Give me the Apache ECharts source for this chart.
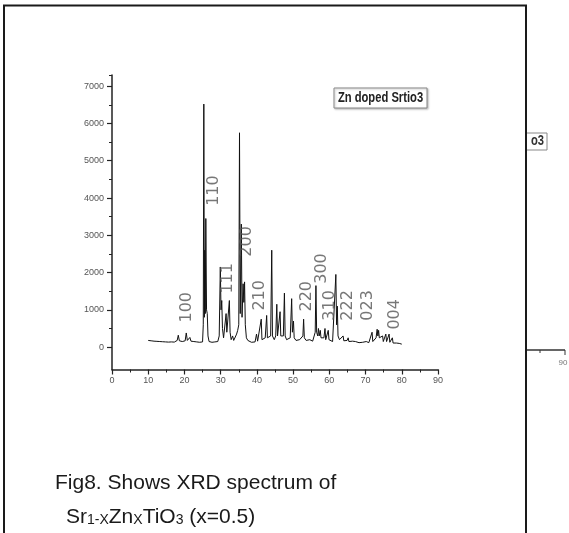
<!DOCTYPE html>
<html>
<head>
<meta charset="utf-8">
<script src="https://cdn.jsdelivr.net/npm/echarts@6/dist/echarts.min.js"></script>
<style>
html,body{margin:0;padding:0;background:#fff;}
#c{width:569px;height:533px;}
</style>
</head>
<body>
<div id="c"></div>
<script>
// 2-theta (degrees) and intensity (counts)
const twoTheta = [10.0,10.4,10.8,11.2,11.6,12.0,12.4,12.8,13.2,13.6,14.0,14.4,14.8,15.2,15.6,16.0,16.4,16.8,17.2,17.6,18.0,18.3,18.6,19.0,19.4,19.8,20.2,20.5,20.8,21.2,21.5,21.8,22.2,22.6,23.0,23.4,23.8,24.2,24.6,25.0,25.2,25.35,25.5,25.6,25.75,25.9,26.1,26.3,26.5,26.8,27.2,27.6,28.0,28.4,28.8,29.2,29.6,29.9,30.1,30.3,30.5,30.8,31.2,31.5,31.7,32.0,32.4,32.6,32.9,33.3,33.6,34.0,34.4,34.7,35.0,35.2,35.4,35.7,35.9,36.2,36.4,36.6,36.8,37.1,37.5,38.0,38.5,39.0,39.5,39.9,40.2,40.7,41.2,41.4,41.9,42.3,42.7,42.9,43.4,43.8,44.1,44.3,44.8,45.2,45.5,45.7,46.1,46.4,46.6,47.0,47.3,47.6,47.8,48.2,48.7,49.2,49.6,49.8,50.1,50.3,50.8,51.3,51.8,52.3,52.7,52.9,53.1,53.6,54.1,54.6,55.1,55.4,55.8,56.1,56.3,56.5,56.8,57.0,57.2,57.5,57.7,58.1,58.5,58.8,59.0,59.4,59.7,59.9,60.4,60.9,61.4,61.8,62.0,62.2,62.4,62.8,63.3,63.8,64.0,64.5,64.9,65.2,65.4,65.9,66.4,66.9,67.2,67.5,67.7,68.2,68.7,69.2,69.7,70.2,70.4,70.9,71.4,71.8,72.0,72.5,72.9,73.2,73.4,73.6,73.8,74.2,74.7,74.9,75.3,75.6,75.8,76.2,76.5,76.7,77.1,77.4,77.6,78.0,78.5,79.0,79.3,79.7,80.0];
const intensity = [180,160,170,150,160,140,155,135,150,130,145,125,140,120,135,125,140,120,135,150,180,320,170,130,150,140,170,380,180,150,260,160,130,150,120,140,110,130,110,140,600,6520,800,2600,900,3450,1000,900,300,150,120,130,110,140,120,150,300,2150,1000,1250,500,250,300,900,400,350,1250,400,200,300,180,220,350,450,600,5750,900,3300,800,1700,1200,1750,600,250,180,150,130,160,140,350,160,150,750,200,180,250,850,250,200,300,2600,300,200,300,1150,300,250,950,300,250,300,1450,300,200,180,250,1300,400,700,250,180,150,200,170,300,750,250,180,150,200,250,160,200,400,1650,400,300,500,300,450,250,200,250,500,200,200,450,200,180,150,200,1950,600,1100,300,200,170,300,170,150,180,250,150,140,160,130,150,200,130,120,110,130,110,150,110,120,150,400,150,200,250,480,300,450,250,200,300,150,150,350,150,130,350,130,120,250,110,100,110,90,100,90,80];

// Miller-index annotations (label text and their anchor in data units)
const hklText = ['100','110','111','200','210','220','300','310','222','023','004'];
const hklX    = [20.7, 28.2, 32.0, 37.3, 40.9, 53.8, 58.0, 60.2, 65.2, 70.7, 78.1];
const hklY    = [1070, 4200, 1845, 2835, 1390, 1365, 2110, 1120, 1120, 1120, 880];

// axis ticks
const yLabelValues = [0,1000,2000,3000,4000,5000,6000,7000];
const yMinorValues = [500,1500,2500,3500,4500,5500,6500,7300];

const boxText = 'Zn doped Srtio3';
const captionLine1 = 'Fig8. Shows XRD spectrum of';
const captionLine2 = 'Sr{s|1-X}Zn{s|X}TiO{s|3} (x=0.5)';

const chart = echarts.init(document.getElementById('c'), null, {renderer:'canvas'});

const yMin = -600, yMax = 7300;
const axisCol = '#222', labCol = '#555';

chart.setOption({
  animation:false,
  backgroundColor:'#fff',
  grid:{left:112, right:131, top:75, bottom:163.5, containLabel:false},
  xAxis:{
    type:'value', min:0, max:90, interval:10,
    axisLine:{show:true, onZero:false, lineStyle:{color:axisCol, width:1.5}},
    axisTick:{show:true, length:5, lineStyle:{color:axisCol, width:1.2}},
    minorTick:{show:true, splitNumber:2, length:3, lineStyle:{color:axisCol, width:1}},
    axisLabel:{color:labCol, fontSize:9, fontFamily:'Liberation Sans', margin:7, formatter:v=>String(v)},
    splitLine:{show:false}
  },
  yAxis:[{
    type:'value', min:yMin, max:yMax,
    axisLine:{show:true, onZero:false, lineStyle:{color:axisCol, width:1.5}},
    axisTick:{show:true, length:5, customValues:yLabelValues, lineStyle:{color:axisCol, width:1.2}},
    axisLabel:{color:labCol, fontSize:9, fontFamily:'Liberation Sans', margin:8, customValues:yLabelValues, formatter:v=>String(v)},
    splitLine:{show:false}
  },{
    type:'value', min:yMin, max:yMax, position:'left',
    axisLine:{show:false},
    axisTick:{show:true, length:3, customValues:yMinorValues, lineStyle:{color:axisCol, width:1}},
    axisLabel:{show:false},
    splitLine:{show:false}
  }],
  series:[{
    type:'line',
    data: twoTheta.map((t,i)=>[t,intensity[i]]),
    showSymbol:false, symbol:'none',
    lineStyle:{color:'#111', width:1},
    silent:true, z:2
  },{
    type:'scatter',
    data: hklText.map((t,i)=>({value:[hklX[i],hklY[i]], name:t})),
    symbolSize:0,
    silent:true,
    label:{show:true, position:'inside', rotate:90, formatter:p=>p.name,
      color:'#555', fontSize:16, fontFamily:'DejaVu Sans', fontWeight:'normal'},
    z:3
  }],
  graphic:[
    // outer frame
    {type:'rect', shape:{x:4, y:5.5, width:522, height:560}, style:{fill:'none', stroke:'#1a1a1a', lineWidth:2}, z:10},
    // legend-like box
    {type:'rect', shape:{x:334, y:88, width:93, height:20}, style:{fill:'#fff', stroke:'#888', lineWidth:1, shadowColor:'rgba(0,0,0,0.25)', shadowBlur:2, shadowOffsetX:1, shadowOffsetY:1}, z:10},
    {type:'text', x:380.5, y:98, scaleX:0.8, style:{text:boxText, fill:'#222', font:'bold 14px "Liberation Sans"', align:'center', verticalAlign:'middle'}, z:11},
    // ghost fragments beyond the frame
    {type:'rect', shape:{x:526, y:133, width:21, height:17}, style:{fill:'#fff', stroke:'#888', lineWidth:1}, z:9},
    {type:'text', x:544, y:141.5, scaleX:0.8, style:{text:'o3', fill:'#333', font:'bold 14px "Liberation Sans"', align:'right', verticalAlign:'middle'}, z:9},
    {type:'line', shape:{x1:527, y1:350, x2:565, y2:350}, style:{stroke:'#333', lineWidth:1.3}, z:9},
    {type:'line', shape:{x1:540, y1:350, x2:540, y2:353}, style:{stroke:'#333', lineWidth:1}, z:9},
    {type:'line', shape:{x1:565, y1:350, x2:565, y2:355}, style:{stroke:'#333', lineWidth:1}, z:9},
    {type:'text', x:563, y:363, style:{text:'90', fill:'#777', font:'8px "Liberation Sans"', align:'center', verticalAlign:'middle'}, z:9},
    // caption
    {type:'text', x:55, y:483, style:{text:captionLine1, fill:'#1a1a1a', font:'21px "Liberation Sans"', verticalAlign:'middle'}, z:10},
    {type:'text', x:66, y:517, style:{text:captionLine2, fill:'#1a1a1a', font:'21px "Liberation Sans"', verticalAlign:'middle',
      rich:{s:{fontSize:14, fontFamily:'Liberation Sans', lineHeight:10, verticalAlign:'bottom', fill:'#1a1a1a'}}}, z:10}
  ]
});
</script>
</body>
</html>
